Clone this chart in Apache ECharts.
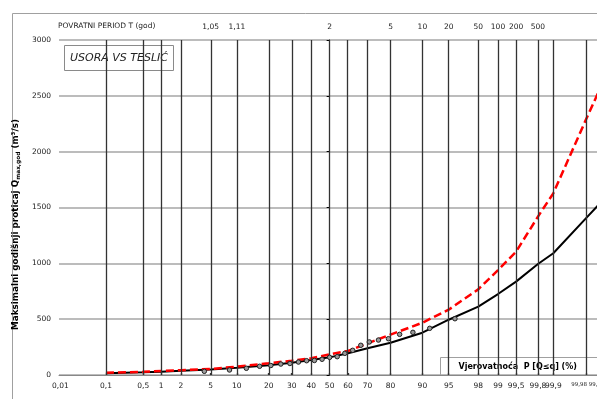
<!DOCTYPE html>
<html>
<head>
<meta charset="utf-8">
<script src="https://cdn.jsdelivr.net/npm/echarts@6/dist/echarts.min.js"></script>
<style>html,body{margin:0;padding:0;background:#fff}#c{width:597px;height:399px}</style>
</head>
<body>
<div id="c"></div>
<script>
// ---- data ----
const gridP = [0.1,0.5,1,2,5,10,20,30,40,50,60,70,80,90,95,98,99,99.5,99.8,99.9,99.98];
const bottomP = [0.01,0.1,0.5,1,2,5,10,20,30,40,50,60,70,80,90,95,98,99,99.5,99.8,99.9,99.98];
const bottomLabels = ['0,01','0,1','0,5','1','2','5','10','20','30','40','50','60','70','80','90','95','98','99','99,5','99,8','99,9','99,98 99,99'];
const topP = [5,10,50,80,90,95,98,99,99.5,99.8];
const topLabels = ['1,05','1,11','2','5','10','20','50','100','200','500'];
const yTicks = [0,500,1000,1500,2000,2500,3000];

const lineP = [0.1,0.5,1,2,5,10,20,30,40,50,60,70,80,90,95,98,99,99.5,99.8,99.9,99.98,99.99];
const blackQ = [15,25,30,38,50,65,87,110,134,158,194,239,289,379,495,612,725,836,994,1090,1403,1526];
const redQ = [20,28,36,43,54,75,105,128,150,185,215,283,362,468,585,767,940,1104,1418,1627,2285,2540];

const empP = [4.17,8.33,12.5,16.67,20.83,25,29.17,33.33,37.5,41.67,45.83,50,54.17,58.33,62.5,66.67,70.83,75,79.17,83.33,87.5,91.67,95.83];
const empQ = [33,45,60,78,85,98,103,116,128,130,141,158,164,194,221,266,296,313,325,364,382,418,504];

// ---- normal probability scale transform (probit) ----
function probit(pPct){
  const p = pPct/100;
  const a=[-39.69683028665376,220.9460984245205,-275.9285104469687,138.3577518672690,-30.66479806614716,2.506628277459239];
  const b=[-54.47609879822406,161.5858368580409,-155.6989798598866,66.80131188771972,-13.28068155288572];
  const c=[-0.007784894002430293,-0.3223964580411365,-2.400758277161838,-2.549732539343734,4.374664141464968,2.938163982698783];
  const d=[0.007784695709041462,0.3224671290700398,2.445134137142996,3.754408661907416];
  const pl=0.02425, ph=1-pl;
  let q,r;
  if(p<pl){q=Math.sqrt(-2*Math.log(p));return (((((c[0]*q+c[1])*q+c[2])*q+c[3])*q+c[4])*q+c[5])/((((d[0]*q+d[1])*q+d[2])*q+d[3])*q+1);}
  if(p<=ph){q=p-0.5;r=q*q;return (((((a[0]*r+a[1])*r+a[2])*r+a[3])*r+a[4])*r+a[5])*q/(((((b[0]*r+b[1])*r+b[2])*r+b[3])*r+b[4])*r+1);}
  q=Math.sqrt(-2*Math.log(1-p));return -(((((c[0]*q+c[1])*q+c[2])*q+c[3])*q+c[4])*q+c[5])/((((d[0]*q+d[1])*q+d[2])*q+d[3])*q+1);
}
const XMIN=-3.739, XMAX=3.694;
function labelFor(v, ps, labels){
  let best=0, bd=1e9;
  ps.forEach((p,i)=>{const dd=Math.abs(probit(p)-v); if(dd<bd){bd=dd;best=i;}});
  return labels[best];
}
const FONT='DejaVu Sans';

const chart = echarts.init(document.getElementById('c'), null, {renderer:'canvas'});
chart.setOption({
  animation:false,
  backgroundColor:'#fff',
  grid:{left:59, right:0, top:40, bottom:24, containLabel:false, outerBoundsMode:'none'},
  xAxis:[{
    type:'value', min:XMIN, max:XMAX, position:'bottom',
    axisLine:{show:true, onZero:false, lineStyle:{color:'#888', width:1}},
    axisTick:{show:false},
    splitLine:{show:false},
    axisLabel:{
      customValues: bottomP.map(probit),
      showMinLabel:true, showMaxLabel:true, hideOverlap:false,
      margin:7, color:'#222', fontFamily:FONT, fontSize:7.5,
      formatter:(v)=>{const s=labelFor(v,bottomP,bottomLabels); return s.indexOf(' ')>0?'{s|'+s+'}':s;},
      rich:{s:{fontSize:5.5, fontFamily:FONT, color:'#222', padding:[0,0,0,4]}}
    }
  },{
    type:'value', min:XMIN, max:XMAX, position:'top',
    axisLine:{show:false},
    axisTick:{show:true, customValues: gridP.map(probit), length:2, lineStyle:{color:'#333', width:1.3}},
    splitLine:{show:false},
    axisLabel:{
      customValues: topP.map(probit), hideOverlap:false,
      margin:9, color:'#222', fontFamily:FONT, fontSize:7.5,
      formatter:(v)=>labelFor(v,topP,topLabels)
    }
  }],
  yAxis:{
    type:'value', min:0, max:3000, interval:500,
    axisLine:{show:true, lineStyle:{color:'#000', width:1}},
    axisTick:{show:true, length:3, lineStyle:{color:'#000'}},
    splitLine:{show:true, lineStyle:{color:'#a6a6a6', width:1.5}},
    axisLabel:{margin:8, color:'#222', fontFamily:FONT, fontSize:7.5,
      formatter:(v)=>yTicks.indexOf(v)>=0?String(v):''},
    name:'{b|Maksimalni godišnji proticaj Q}{s|max,god}{b| (m³/s)}',
    nameLocation:'middle', nameRotate:90, nameGap:35,
    nameTextStyle:{padding:[0,34,0,0], rich:{
      b:{fontFamily:FONT, fontWeight:'bold', fontSize:8.8, color:'#000'},
      s:{fontFamily:FONT, fontWeight:'bold', fontSize:5.8, color:'#000', verticalAlign:'bottom', padding:[4,0,0,0]}
    }}
  },
  series:[
    {
      type:'line', name:'grid', data:[], silent:true,
      markLine:{
        silent:true, symbol:['none','none'], animation:false,
        label:{show:false},
        lineStyle:{color:'#333', width:1.3, type:'solid'},
        data: gridP.map(p=>({xAxis: probit(p)}))
      }
    },
    {
      type:'line', name:'black', smooth:false, showSymbol:false, clip:true,
      lineStyle:{color:'#000', width:2},
      data: lineP.map((p,i)=>[probit(p), blackQ[i]]), z:3
    },
    {
      type:'line', name:'red', smooth:false, showSymbol:false, clip:true,
      lineStyle:{color:'#ff0000', width:2.5, type:[8,4]},
      data: lineP.map((p,i)=>[probit(p), redQ[i]]), z:4
    },
    {
      type:'scatter', name:'emp', symbol:'circle', symbolSize:4.5,
      itemStyle:{color:'#9a9a9a', borderColor:'#222', borderWidth:1, opacity:1},
      data: empP.map((p,i)=>[probit(p), empQ[i]]), z:5
    }
  ],
  graphic:[
    {type:'rect', left:10, top:11, shape:{width:620, height:420}, silent:true, z:-10,
      style:{fill:'none', stroke:'#a0a0a0', lineWidth:1}},
    {type:'text', left:58, top:22, silent:true,
      style:{text:'POVRATNI PERIOD T (god)', font:'7.5px "DejaVu Sans"', fill:'#222'}},
    {type:'group', left:64, top:45, z:100, children:[
      {type:'rect', shape:{x:0,y:0,width:109,height:25}, style:{fill:'#fff', stroke:'#8a8a8a', lineWidth:1}},
      {type:'text', x:54.5, y:12.5, style:{text:'USORA VS TESLIĆ', font:'italic 11px "DejaVu Sans"', fill:'#222', align:'center', verticalAlign:'middle'}}
    ]},
    {type:'group', left:440, top:357, z:100, children:[
      {type:'rect', shape:{x:0,y:0,width:170,height:18}, style:{fill:'#fff', stroke:'#a0a0a0', lineWidth:1}},
      {type:'text', x:18, y:9.5, style:{text:'Vjerovatnoća  P [Q≤q] (%)', font:'bold 8px "DejaVu Sans"', fill:'#000', verticalAlign:'middle'}}
    ]}
  ]
});
</script>
</body>
</html>
